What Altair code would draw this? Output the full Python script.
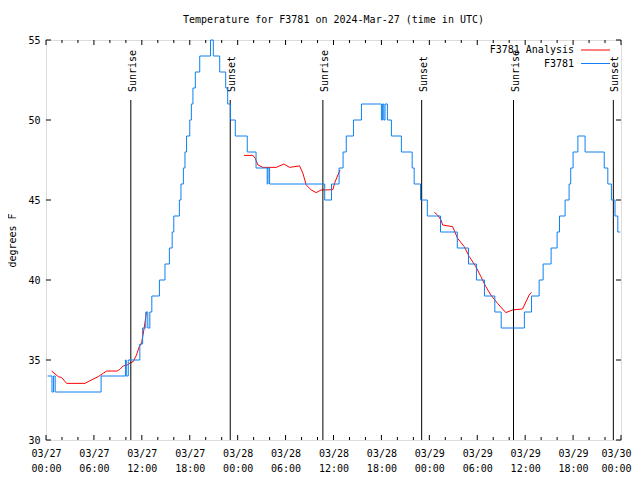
import altair as alt
import pandas as pd

# ---- data (hours since 2024-03-27 00:00 UTC) ----
BLUE_HOURS = [0.2, 0.75, 0.95, 1.15, 6.9, 9.95, 10.05, 10.3, 11.75, 12.1, 12.5, 12.75, 13.0, 13.25,
              14.2, 14.9, 15.45, 15.8, 16.0, 16.7, 16.9, 17.2, 17.4, 17.6, 18.0, 18.2, 18.4, 18.7,
              19.25, 20.6, 20.95, 21.75, 22.5, 22.75, 23.1, 23.7, 25.2, 26.3, 27.7, 27.8, 28.0,
              34.9, 35.75, 36.7, 37.2, 37.6, 38.5, 39.5, 42.0, 42.15, 42.3, 42.45, 42.75, 43.25,
              44.5, 45.85, 46.1, 46.9, 47.75, 49.4, 51.5, 52.9, 53.9, 54.9, 56.2, 57.0, 59.9,
              60.8, 61.75, 62.25, 63.25, 64.0, 64.3, 65.0, 65.5, 65.7, 66.0, 66.6, 67.5, 69.9,
              70.35, 70.8, 71.25, 71.6, 71.9]
BLUE_TEMPS = [34, 33, 34, 33, 34, 35, 34, 35, 36, 37, 38, 37, 38, 39,
              40, 41, 42, 43, 44, 45, 46, 47, 48, 49, 50, 51, 52, 53,
              54, 55, 54, 53, 52, 51, 50, 49, 48, 47, 46, 47, 46,
              45, 46, 47, 48, 49, 50, 51, 50, 51, 50, 51, 50, 49,
              48, 47, 46, 45, 44, 43, 42, 41, 40, 39, 38, 37, 38,
              39, 40, 41, 42, 43, 44, 45, 46, 47, 48, 49, 48, 47,
              46, 45, 44, 43, 43]

RED1_HOURS = [0.71, 1.54, 1.96, 2.58, 4.88, 5.29, 5.92, 6.54, 7.17, 7.58, 8.92, 9.25, 9.67,
              10.17, 10.58, 10.92, 11.33, 11.67, 11.96, 12.29, 12.58]
RED1_TEMPS = [34.31, 33.96, 33.9, 33.54, 33.54, 33.65, 33.81, 33.96, 34.17, 34.31, 34.31, 34.42,
              34.63, 34.69, 34.83, 34.9, 35.31, 35.83, 36.04, 36.98, 37.98]
RED2_HOURS = [24.79, 25.92, 26.2, 26.54, 27.17, 28.83, 29.79, 30.5, 31.75, 32.17, 32.58, 33.21,
              33.83, 34.46, 35.29, 35.92, 36.13, 36.54, 36.83]
RED2_TEMPS = [47.79, 47.79, 47.6, 47.19, 47.04, 47.04, 47.25, 47.04, 47.13, 46.67, 45.94, 45.63,
              45.46, 45.63, 45.63, 45.65, 46.04, 46.56, 46.88]
RED3_HOURS = [48.63, 49.04, 49.46, 49.67, 50.92, 51.54, 52.38, 53.0, 53.83, 54.46, 55.08, 55.71,
              56.54, 57.58, 58.42, 59.67, 60.5, 60.8]
RED3_TEMPS = [44.23, 44.06, 43.75, 43.44, 43.33, 42.6, 42.08, 41.46, 40.83, 40.21, 39.58, 39.06,
              38.54, 37.96, 38.13, 38.19, 39.06, 39.23]

EVENT_HOURS = [10.62, 23.07, 34.67, 47.04, 58.54, 71.04]
EVENT_LABELS = ["Sunrise", "Sunset", "Sunrise", "Sunset", "Sunrise", "Sunset"]

SERIES_NAMES = ["F3781 Analysis", "F3781"]
SERIES_COLORS = ["#ff0000", "#0f80f0"]

TICK_HOURS = [0, 6, 12, 18, 24, 30, 36, 42, 48, 54, 60, 66, 72]
DAY_LABELS = ["03/27", "03/27", "03/27", "03/27", "03/28", "03/28", "03/28", "03/28",
              "03/29", "03/29", "03/29", "03/29", "03/30"]
TIME_LABELS = ["00:00", "06:00", "12:00", "18:00", "00:00", "06:00", "12:00", "18:00",
               "00:00", "06:00", "12:00", "18:00", "00:00"]
MINOR_HOURS = [2, 4, 8, 10, 14, 16, 20, 22, 26, 28, 32, 34, 38, 40, 44, 46, 50, 52, 56, 58,
               62, 64, 68, 70]
Y_TICKS = [30, 35, 40, 45, 50, 55]

TITLE = "Temperature for F3781 on 2024-Mar-27 (time in UTC)"
FONT = "DejaVu Sans Mono"

# ---- tables ----
blue = pd.DataFrame({"h": BLUE_HOURS, "t": BLUE_TEMPS})
red = pd.concat([
    pd.DataFrame({"h": RED1_HOURS, "t": RED1_TEMPS, "seg": 1}),
    pd.DataFrame({"h": RED2_HOURS, "t": RED2_TEMPS, "seg": 2}),
    pd.DataFrame({"h": RED3_HOURS, "t": RED3_TEMPS, "seg": 3}),
])
events = pd.DataFrame({"h": EVENT_HOURS, "label": EVENT_LABELS})
major = pd.DataFrame({"h": TICK_HOURS})
minor = pd.DataFrame({"h": MINOR_HOURS})
yt = pd.DataFrame({"t": Y_TICKS})

label_expr = " : ".join(
    f"datum.value == {h} ? ['{d}', '{t}']" for h, d, t in zip(TICK_HOURS, DAY_LABELS, TIME_LABELS)
) + " : ''"

xs = alt.Scale(domain=[0, 72], nice=False, zero=False)
ys = alt.Scale(domain=[30, 55], nice=False, zero=False)

x_axis = alt.Axis(values=TICK_HOURS, labelExpr=label_expr, ticks=False, domain=False, grid=False,
                  labelFont=FONT, labelFontSize=10, labelColor="black", labelPadding=8,
                  labelLineHeight=15, labelFlush=False, labelOverlap=False, title=None,
                  labelOffset={"condition": {"test": f"datum.value == {TICK_HOURS[-1]}",
                                             "value": -5}, "value": 0})
y_axis = alt.Axis(values=Y_TICKS, ticks=False, domain=False, grid=False, format="d",
                  labelFont=FONT, labelFontSize=10, labelColor="black", labelPadding=6,
                  labelFlush=False, labelOverlap=False,
                  title="degrees F", titleFont=FONT, titleFontSize=10, titleFontWeight="normal",
                  titleColor="black", titlePadding=10)

W, H = 575, 400
X = alt.X("h:Q", scale=xs, axis=x_axis)
Y = alt.Y("t:Q", scale=ys, axis=y_axis)

red_line = alt.Chart(red).mark_line(color=SERIES_COLORS[0], strokeWidth=1).encode(
    x=X, y=Y, detail="seg:N")
blue_line = alt.Chart(blue).mark_line(color=SERIES_COLORS[1], strokeWidth=1,
                                      interpolate="step-after").encode(x=X, y=Y)

ev_rules = alt.Chart(events).mark_rule(color="black", strokeWidth=1).encode(
    x=X, y=alt.value(60), y2=alt.value(H))
ev_text = alt.Chart(events).mark_text(angle=270, align="left", baseline="middle", font=FONT,
                                      fontSize=10, color="black", dy=2).encode(
    x=X, y=alt.value(52), text="label:N")

tick_layers = [
    alt.Chart(major).mark_rule(color="black").encode(x=X, y=alt.value(H), y2=alt.value(H - 5)),
    alt.Chart(major).mark_rule(color="black").encode(x=X, y=alt.value(0), y2=alt.value(5)),
    alt.Chart(minor).mark_rule(color="black").encode(x=X, y=alt.value(H), y2=alt.value(H - 3)),
    alt.Chart(minor).mark_rule(color="black").encode(x=X, y=alt.value(0), y2=alt.value(3)),
    alt.Chart(yt).mark_rule(color="black").encode(y=Y, x=alt.value(0), x2=alt.value(5)),
    alt.Chart(yt).mark_rule(color="black").encode(y=Y, x=alt.value(W), x2=alt.value(W - 5)),
]

legend_layers = []
for i, (name, color) in enumerate(zip(SERIES_NAMES, SERIES_COLORS)):
    row = pd.DataFrame({"name": [name]})
    ypos = 10 + 13.5 * i
    legend_layers.append(
        alt.Chart(row).mark_text(align="right", baseline="middle", font=FONT, fontSize=10,
                                 color="black").encode(
            x=alt.value(528), y=alt.value(ypos), text="name:N"))
    legend_layers.append(
        alt.Chart(row).mark_rule(color=color, strokeWidth=1).encode(
            x=alt.value(535), x2=alt.value(564), y=alt.value(ypos)))

chart = alt.layer(
    red_line, *tick_layers, ev_rules, ev_text, blue_line, *legend_layers
).properties(
    width=W, height=H,
    title=alt.TitleParams(TITLE, font=FONT, fontSize=10, fontWeight="normal", color="black",
                          offset=10, anchor="middle"),
    autosize=alt.AutoSizeParams(type="none"),
    padding={"left": 38, "top": 32, "right": 11, "bottom": 32},
).configure_view(stroke="black", strokeWidth=1).configure(background="white")

chart.save("out.html", embed_options={"renderer": "svg", "actions": False})
